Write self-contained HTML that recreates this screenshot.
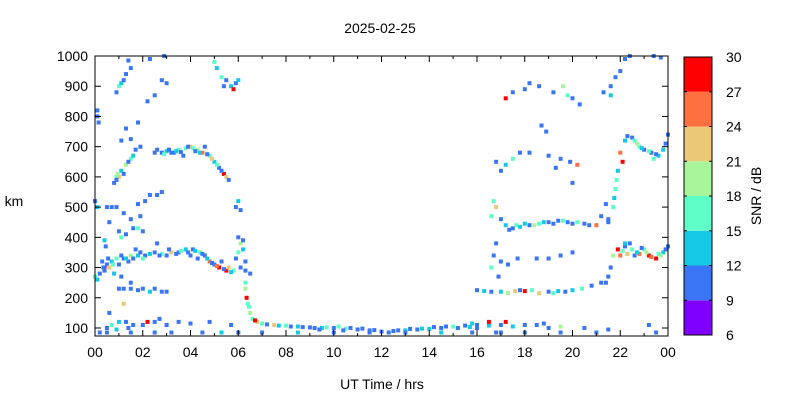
<!DOCTYPE html>
<html><head><meta charset="utf-8"><style>
body{margin:0;background:#fff;}
svg{display:block;font-family:"Liberation Sans",sans-serif;}
</style></head><body>
<svg id="chart" width="800" height="400" viewBox="0 0 800 400">
<rect width="800" height="400" fill="#fff"/>
<text x="380" y="33" font-size="14" text-anchor="middle">2025-02-25</text>
<text x="14" y="206" font-size="14" text-anchor="middle">km</text>
<text x="382" y="389" font-size="14" text-anchor="middle">UT Time / hrs</text>
<text transform="translate(761,196) rotate(-90)" font-size="14" text-anchor="middle">SNR / dB</text>
<g id="marks"></g>
<g id="axes"></g>
</svg>
<script>
const xTickLabels=["00","02","04","06","08","10","12","14","16","18","20","22","00"];
const yTicks=[100,200,300,400,500,600,700,800,900,1000];
const cbLevels=[6,9,12,15,18,21,24,27,30];
const cbColors=["#7f00ff","#3a75f5","#14c8e6","#5ffdc8","#a8f59a","#ebc878","#ff7040","#ff0000"];
// echoes: [hour, km, snr dB]
const echoes=[
[0.1,820,10],[0.1,800,10],[0.15,780,10],[0.9,880,10],[1.0,900,16],[1.1,910,13],[1.2,920,10],[1.3,940,10],[1.5,960,10],[1.4,985,10],
[2.3,990,10],[2.9,1000,10],[2.8,920,10],[3.0,910,10],[2.2,850,10],[2.5,870,10],[1.8,780,10],[1.3,760,10],[1.5,725,10],[1.1,720,10],
[5.0,980,16],[5.1,960,13],[5.3,930,16],[5.5,920,10],[5.7,900,13],[5.8,890,28],[5.9,910,10],[6.0,920,13],[5.4,900,10],
[0.8,580,10],[0.9,600,16],[1.0,600,22],[1.1,620,13],[1.3,640,19],[1.5,660,16],[1.7,690,10],[1.9,700,10],[0.9,590,10],[1.2,610,10],
[2.5,680,10],[2.8,680,10],[3.0,685,13],[3.3,680,10],[3.5,690,16],[3.8,695,16],[4.0,700,22],[4.3,690,19],[4.5,680,25],[4.8,670,16],[5.0,650,13],[5.2,630,10],[5.4,610,28],[5.5,600,22],[5.6,590,10],[3.2,680,10],[4.6,700,10],[3.7,670,10],
[2.6,690,10],[2.9,675,16],[3.1,690,10],[3.4,685,13],[3.6,682,10],[3.9,700,10],[4.1,695,16],[4.2,685,10],[4.4,680,13],[4.7,675,10],[4.9,660,22],[5.1,640,16],[5.3,620,10],[1.4,650,10],[1.6,670,13],[0.95,610,19],
[0.0,520,10],[0.1,500,13],[0.5,500,10],[0.7,500,10],[0.9,500,10],[1.2,480,10],[1.5,460,10],[1.8,430,16],[2.1,520,10],[2.3,540,10],[2.6,540,10],[2.8,550,10],[1.1,400,16],[1.3,410,10],[1.0,420,10],[2.0,420,10],[1.6,430,10],[2.6,380,10],[1.8,510,10],[0.6,450,10],[1.9,470,10],[5.9,500,10],[6.1,490,10],[6.0,520,13],
[0.0,270,16],[0.1,260,13],[0.2,280,10],[0.4,300,28],[0.5,310,10],[0.7,320,13],[0.9,330,16],[1.2,330,10],[1.5,340,19],[1.8,340,13],[2.1,340,10],[2.5,350,10],[2.8,345,16],[3.2,350,22],[3.5,350,10],[3.8,360,13],[4.1,360,10],[4.4,350,16],[4.6,340,10],[4.8,320,25],[5.0,310,10],[5.2,300,28],[5.5,290,28],[5.8,290,16],[6.1,300,10],[6.3,290,10],[6.5,280,10],
[0.4,290,10],[0.6,300,22],[1.0,310,10],[1.4,320,10],[2.0,330,16],[3.0,340,10],[4.0,340,10],[5.3,320,10],[0.8,280,13],[0.3,320,10],[1.7,360,10],[4.3,330,10],[5.6,300,22],
[0.55,330,10],[0.75,310,16],[1.1,340,10],[1.3,330,13],[1.6,330,10],[1.9,350,10],[2.3,345,13],[2.7,340,10],[3.1,360,10],[3.4,345,10],[3.6,355,16],[3.9,350,10],[4.2,355,13],[4.5,345,10],[4.7,330,13],[4.9,315,10],[5.1,305,25],[5.4,295,10],[5.7,285,13],[0.35,300,10],
[6.0,350,16],[6.1,380,19],[6.2,390,10],[6.2,360,13],[6.0,400,10],[5.9,330,10],[6.3,320,10],[0.45,370,10],[0.4,390,13],
[6.3,250,16],[6.35,200,28],[6.4,180,16],[6.5,150,19],[6.6,130,16],[6.8,120,22],[7.0,115,16],[7.5,110,22],[8.0,108,16],[8.5,105,13],[9,102,10],[9.5,100,13],[10,100,10],[10.5,98,16],[11,95,10],[11.5,92,10],[12,88,10],[12.5,90,10],[13,92,13],[13.5,95,10],[14,97,13],[14.5,100,10],[15,105,16],[15.5,108,10],[16,100,10],[16.5,108,13],
[6.3,230,19],[6.45,170,16],[6.7,125,28],[7.2,112,10],[8.2,105,10],[9.2,100,10],[10.2,105,16],[11.2,98,10],[13.2,97,10],[14.2,103,10],[15.2,100,10],
[7.7,108,13],[8.7,103,10],[9.7,102,16],[10.7,100,10],[11.7,93,10],[12.7,92,10],[13.7,98,13],[14.7,105,10],[15.7,103,13],[9.4,95,10],[10.4,92,10],
[1.0,230,10],[1.2,230,10],[1.5,230,10],[1.8,225,10],[2.0,230,10],[2.3,220,13],[2.5,230,10],[2.8,220,10],[3.0,220,10],[1.5,250,10],[1.1,270,10],
[0.5,100,10],[0.7,110,16],[1.0,120,13],[1.3,120,10],[1.6,110,10],[2.0,110,10],[2.5,120,10],[3.0,110,10],[1.2,180,22],[0.6,150,10],[2.2,120,28],[2.7,130,10],[3.5,120,10],[4.0,115,10],[4.8,120,10],[5.7,110,10],[0.9,95,13],[1.4,100,10],
[0.2,85,10],[0.5,85,10],[1.5,85,10],[2.5,85,10],[4.5,85,10],[6.0,85,10],[7.0,85,10],[8.5,85,13],[10,85,10],[11.5,85,10],[13,85,10],[14.5,85,13],[15.8,85,10],[17,85,10],[18,85,10],[19.5,85,10],[21,85,10],[23.5,85,10],[3.2,85,10],[5.3,85,13],[12.3,85,10],[16.8,85,10],
[16.0,225,10],[16.3,222,13],[16.6,220,10],[17,220,13],[17.3,215,19],[17.6,222,22],[18,222,28],[18.3,225,16],[18.6,215,22],[19,220,10],[19.4,222,13],[19.7,220,10],[20,225,13],[20.4,230,16],[20.8,240,10],[21.2,250,10],[21.5,270,10],[17.8,225,10],[19.2,215,16],
[16.7,340,10],[17.0,320,10],[17.3,310,10],[17.7,330,10],[18.5,330,10],[19.0,330,10],[19.5,340,10],[20,350,10],[16.6,300,16],[16.8,380,10],[16.9,270,10],
[16.6,470,16],[16.8,500,22],[17.2,440,13],[17.5,430,10],[17.8,435,13],[18.2,440,10],[18.6,445,16],[19,450,10],[19.4,455,10],[19.8,450,10],[20.2,450,16],[20.5,445,10],[21,440,25],[21.5,450,10],[16.7,520,16],[17.0,460,10],
[17.35,425,10],[17.65,440,16],[18.0,445,13],[18.4,440,19],[18.8,450,13],[19.2,445,10],[19.6,455,16],[20.0,445,10],[20.7,440,10],
[16.8,650,10],[17.2,640,13],[17.5,660,16],[17.8,680,10],[18.2,680,10],[19,670,10],[19.5,660,10],[19.9,650,10],[20.2,640,25],[17.0,620,10],[20.0,580,10],[19.3,630,10],
[17.2,860,28],[17.5,880,10],[18,890,10],[18.2,910,10],[18.6,900,10],[19.2,880,10],[19.6,900,19],[19.8,870,16],[20,860,10],[18.7,770,10],[18.9,750,10],[20.3,840,10],
[21.5,460,10],[21.7,500,16],[21.8,560,16],[21.9,620,13],[22.0,680,25],[22.2,720,13],[22.5,730,10],[22.8,700,16],[23,690,10],[23.3,680,10],[23.6,670,13],[23.9,710,10],[24,740,10],[22.1,650,28],[22.7,710,19],[23.4,660,16],[21.2,470,10],[21.4,510,10],
[22.3,735,10],[22.6,720,16],[22.9,695,13],[23.2,685,16],[23.5,675,10],[23.8,690,13],[21.75,530,13],[21.85,590,16],
[21.6,300,10],[21.7,340,19],[21.9,360,28],[22.2,370,10],[22.5,360,16],[22.8,345,25],[23.2,340,28],[23.5,330,28],[23.8,350,13],[24,370,10],[22.0,340,25],[22.4,380,10],[23.0,360,16],[23.7,340,19],[22.6,340,10],[21.4,250,10],
[22.1,355,16],[22.3,345,22],[22.7,350,13],[22.9,365,10],[23.1,350,19],[23.3,335,25],[23.6,345,16],[23.9,360,10],[22.2,380,13],
[21.6,900,10],[21.8,930,10],[22.0,950,10],[22.2,990,10],[22.4,1000,10],[23.4,1000,10],[23.7,995,10],[21.3,880,10],[21.6,870,13],
[17,110,10],[17.5,105,13],[18,110,10],[18.5,110,10],[19,100,10],[19.5,105,19],[16.0,110,10],[16.5,120,28],[17.2,120,28],[18.8,115,10],[20.5,100,10],[21.5,95,10],[23.2,110,10],[15.8,115,13]
];
const X0=95,X1=668,Y0=336,Y1=56,KMIN=73.5,KMAX=1000;
function xs(h){return X0+(X1-X0)*h/24;}
function ys(k){return Y0-(Y0-Y1)*(k-KMIN)/(KMAX-KMIN);}
function color(s){for(let i=0;i<cbColors.length;i++){if(s<cbLevels[i+1])return cbColors[i];}return cbColors[cbColors.length-1];}
const NS="http://www.w3.org/2000/svg";
const marks=document.getElementById('marks'),axes=document.getElementById('axes');
function mk(tag,attrs,parent){const e=document.createElementNS(NS,tag);for(const k in attrs)e.setAttribute(k,attrs[k]);parent.appendChild(e);return e;}
echoes.forEach(p=>{
 const r=mk('rect',{x:(xs(p[0])-2).toFixed(1),y:(ys(p[1])-2).toFixed(1),width:4,height:4,fill:color(p[2])},marks);
 
 
});
const fr=mk('rect',{x:X0,y:Y1,width:X1-X0,height:Y0-Y1,fill:'none',stroke:'#000','stroke-width':1},axes);


for(let h=0;h<=24;h++){
 const x=xs(h);
 const len=(h%2===0)?6:3;
 mk('line',{x1:x,y1:Y0,x2:x,y2:Y0-len,stroke:'#000'},axes);
 mk('line',{x1:x,y1:Y1,x2:x,y2:Y1+len,stroke:'#000'},axes);
}
xTickLabels.forEach((lab,i)=>{
 const t=mk('text',{x:xs(i*2),y:Y0+21,'font-size':14,'text-anchor':'middle'},axes);
 t.textContent=lab;
 
 
});
yTicks.forEach(k=>{
 const y=ys(k);
 mk('line',{x1:X0,y1:y,x2:X0+6,y2:y,stroke:'#000'},axes);
 mk('line',{x1:X1,y1:y,x2:X1-6,y2:y,stroke:'#000'},axes);
 const t=mk('text',{x:X0-7,y:y+5,'font-size':14,'text-anchor':'end'},axes);
 t.textContent=k;
 
 
});
const CX=684,CW=28,CB0=335,CB1=57;
function cy(v){return CB0-(CB0-CB1)*(v-cbLevels[0])/(cbLevels[cbLevels.length-1]-cbLevels[0]);}
cbColors.forEach((c,i)=>{
 const r=mk('rect',{x:CX,y:cy(cbLevels[i+1]),width:CW,height:cy(cbLevels[i])-cy(cbLevels[i+1]),fill:c},axes);
 
 
});
mk('rect',{x:CX,y:CB1,width:CW,height:CB0-CB1,fill:'none',stroke:'#000'},axes);
cbLevels.forEach(v=>{
 const y=cy(v);
 mk('line',{x1:CX,y1:y,x2:CX+3,y2:y,stroke:'#000'},axes);
 mk('line',{x1:CX+CW,y1:y,x2:CX+CW-3,y2:y,stroke:'#000'},axes);
 const t=mk('text',{x:CX+CW+14,y:y+5,'font-size':14},axes);
 t.textContent=v;
 
 
});
</script>
</body></html>
